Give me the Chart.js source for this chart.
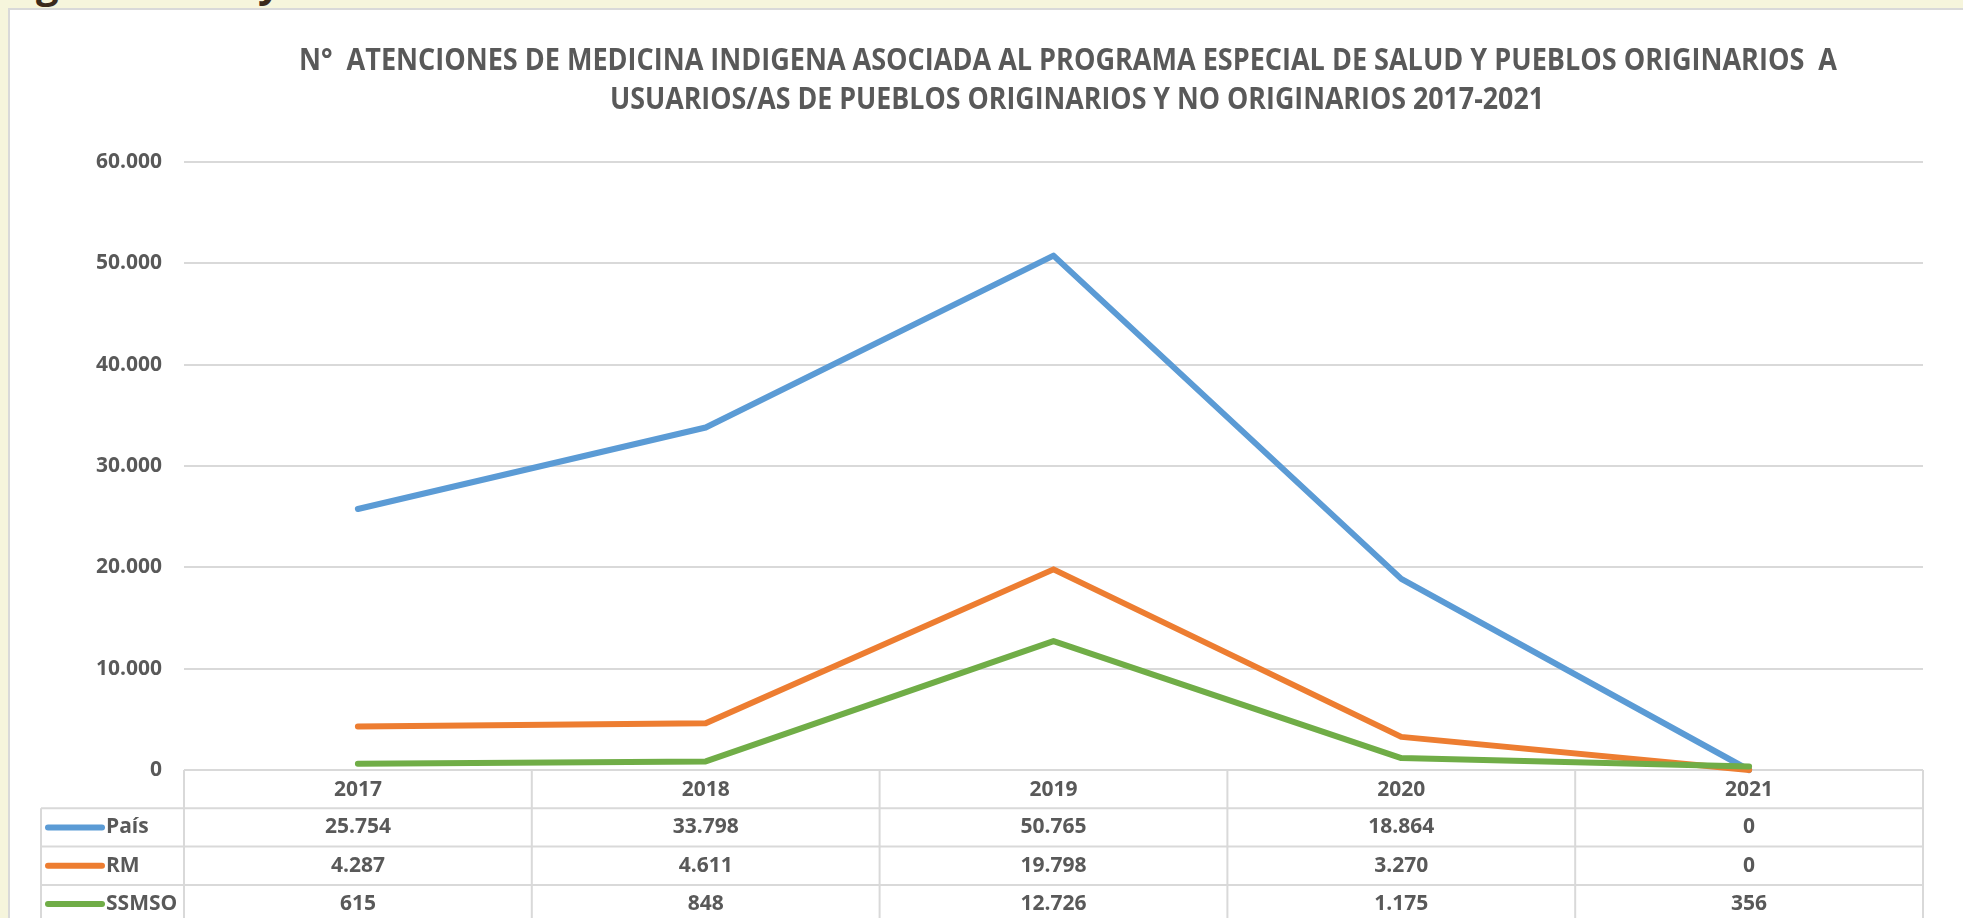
<!DOCTYPE html>
<html>
<head>
<meta charset="utf-8">
<script src="https://cdn.jsdelivr.net/npm/chart.js"></script>
<style>
body{margin:0;background:#f6f5dc;width:1963px;height:918px;overflow:hidden;position:relative;}
#panel{position:absolute;left:8px;top:8px;width:1970px;height:930px;background:#fff;border-top:2px solid #d9d9d9;border-left:2px solid #d9d9d9;}
#wrap{position:absolute;left:0;top:0;width:1963px;height:918px;}
.frag{position:absolute;color:#3b2a1c;font-family:'Open Sans';font-weight:bold;font-size:40px;line-height:40px;}
</style>
</head>
<body>
<div class="frag" style="left:36px;top:-37px">g</div>
<div class="frag" style="left:258px;top:-38px">y</div>
<div id="panel"></div>
<div id="wrap"><canvas id="chart"></canvas></div>
<script>
const years = ['2017', '2018', '2019', '2020', '2021'];
const pais = [25754, 33798, 50765, 18864, 0];
const rm = [4287, 4611, 19798, 3270, 0];
const ssmso = [615, 848, 12726, 1175, 356];
const seriesNames = ['País', 'RM', 'SSMSO'];
const seriesColors = ['#5b9bd5', '#ed7d31', '#70ad47'];
const titleLines = [
    'N°  ATENCIONES DE MEDICINA INDIGENA ASOCIADA AL PROGRAMA ESPECIAL DE SALUD Y PUEBLOS ORIGINARIOS  A',
    'USUARIOS/AS DE PUEBLOS ORIGINARIOS Y NO ORIGINARIOS 2017-2021'
];

const allSeries = [pais, rm, ssmso];
const gray = '#595959';
const gridColor = '#d9d9d9';

// 25754 -> "25.754"
function fmt(v) {
    return String(v).replace(/\B(?=(\d{3})+(?!\d))/g, '.');
}

// draw text squeezed/stretched to a given width
function fitText(ctx, text, cx, y, w) {
    let k = w / ctx.measureText(text).width;
    ctx.save();
    ctx.translate(cx, y);
    ctx.scale(k, 1);
    ctx.fillText(text, 0, 0);
    ctx.restore();
}

const rowH = 38.3;
const tableLeft = 41;

const tablePlugin = {
    id: 'dataTable',
    beforeDatasetsDraw(chart) {
        let ctx = chart.ctx;
        let area = chart.chartArea;
        let colW = (area.right - area.left) / years.length;
        ctx.save();
        ctx.strokeStyle = gridColor;
        ctx.lineWidth = 2;
        ctx.beginPath();
        for (let r = 1; r <= seriesNames.length + 1; r++) {
            let y = area.bottom + r * rowH;
            ctx.moveTo(tableLeft, y);
            ctx.lineTo(area.right, y);
        }
        ctx.moveTo(tableLeft, area.bottom + rowH);
        ctx.lineTo(tableLeft, area.bottom + (seriesNames.length + 1) * rowH);
        for (let i = 0; i <= years.length; i++) {
            let x = area.left + i * colW;
            ctx.moveTo(x, area.bottom);
            ctx.lineTo(x, area.bottom + (seriesNames.length + 1) * rowH);
        }
        ctx.stroke();
        ctx.restore();
    },
    afterDraw(chart) {
        let ctx = chart.ctx;
        let area = chart.chartArea;
        let xScale = chart.scales.x;
        ctx.save();
        ctx.fillStyle = gray;

        // title
        ctx.font = 'bold 30px "Open Sans"';
        ctx.textAlign = 'center';
        ctx.textBaseline = 'alphabetic';
        fitText(ctx, titleLines[0], 1068, 70, 1538);
        fitText(ctx, titleLines[1], 1077, 109, 934);

        // table text
        ctx.font = 'bold 21px "Open Sans"';
        ctx.textBaseline = 'middle';
        years.forEach((yr, i) => {
            ctx.fillText(yr, xScale.getPixelForValue(i), area.bottom + rowH / 2 + 1);
        });
        allSeries.forEach((data, s) => {
            let cy = area.bottom + (s + 1) * rowH + rowH / 2;
            ctx.textAlign = 'center';
            data.forEach((v, i) => {
                ctx.fillText(fmt(v), xScale.getPixelForValue(i), cy);
            });
            // legend key
            ctx.strokeStyle = seriesColors[s];
            ctx.lineWidth = 6;
            ctx.lineCap = 'round';
            ctx.beginPath();
            ctx.moveTo(48, cy);
            ctx.lineTo(102, cy);
            ctx.stroke();
            ctx.textAlign = 'left';
            ctx.fillText(seriesNames[s], 106, cy);
        });
        ctx.restore();
    }
};

let datasets = allSeries.map((data, s) => ({
    label: seriesNames[s],
    data: data,
    borderColor: seriesColors[s],
    backgroundColor: seriesColors[s],
    borderWidth: 6,
    pointRadius: 0,
    tension: 0,
    borderJoinStyle: 'round',
    borderCapStyle: 'round',
    clip: false,
    order: allSeries.length - s
}));

new Chart(document.getElementById('chart'), {
    type: 'line',
    data: {
        labels: years,
        datasets: datasets
    },
    options: {
        responsive: true,
        maintainAspectRatio: false,
        animation: false,
        layout: {
            padding: { left: 0, top: 162, right: 40, bottom: 148 }
        },
        plugins: {
            legend: { display: false },
            title: { display: false },
            tooltip: { enabled: false }
        },
        scales: {
            x: {
                display: false,
                offset: true
            },
            y: {
                min: 0,
                max: 60000,
                ticks: {
                    stepSize: 10000,
                    padding: 22,
                    color: gray,
                    font: { family: 'Open Sans', weight: 'bold', size: 21 },
                    callback: v => fmt(v)
                },
                grid: { color: gridColor, lineWidth: 2, drawTicks: false },
                border: { display: false },
                afterFit(scale) { scale.width = 184; }
            }
        }
    },
    plugins: [tablePlugin]
});
</script>
</body>
</html>
